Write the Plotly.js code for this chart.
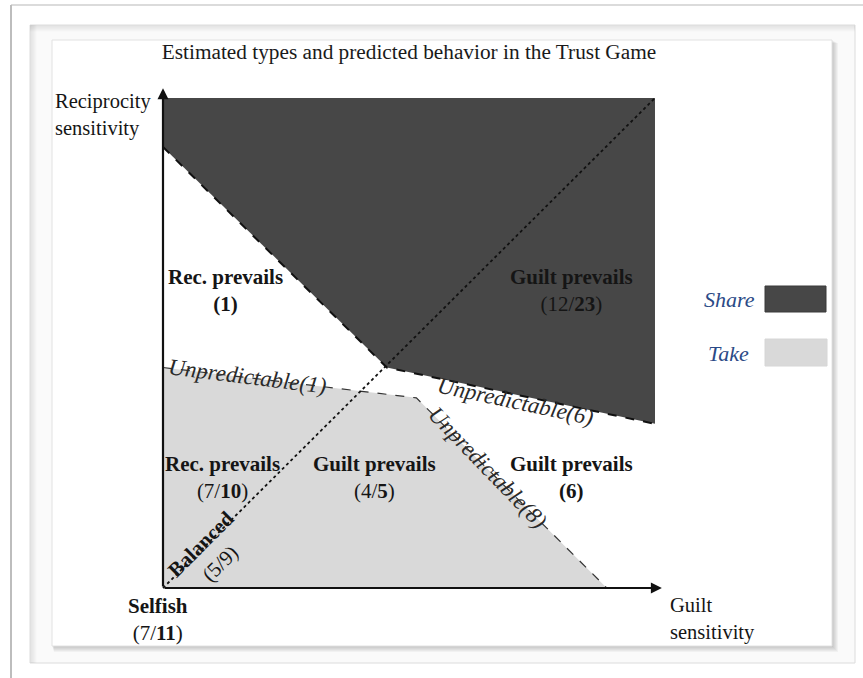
<!DOCTYPE html>
<html>
<head>
<meta charset="utf-8">
<script src="https://cdn.plot.ly/plotly-3.0.1.min.js"></script>
<style>html,body{margin:0;padding:0;background:#fff;}#chart{width:863px;height:678px;}</style>
</head>
<body>
<div id="chart"></div>
<script>
// ---- data (guilt sensitivity on x, reciprocity sensitivity on y) ----
const shareX = [0, 0, 4.55, 10, 10];
const shareY = [10, 9, 4.5, 3.35, 10];
const shareEdgeX = [0, 4.55, 10];
const shareEdgeY = [9, 4.5, 3.35];
const takeX = [0, 5.15, 9.02, 0];
const takeY = [4.5, 3.88, 0, 0];
const takeEdgeX = [0, 5.15, 9.02];
const takeEdgeY = [4.5, 3.88, 0];
const balancedX = [0, 10];
const balancedY = [0, 10];
const axisMax = {x: 10.14, y: 10.2};

const regionLabels = [
  '<b>Rec. prevails</b><br><b>(1)</b>',
  '<b>Guilt prevails</b><br>(12/<b>23</b>)',
  '<b>Rec. prevails</b><br>(7/<b>10</b>)',
  '<b>Guilt prevails</b><br>(4/<b>5</b>)',
  '<b>Guilt prevails</b><br><b>(6)</b>',
  '<b>Balanced</b><br>(5/9)',
  '<b>Selfish</b><br>(7/<b>11</b>)'
];
const boundaryLabels = ['Unpredictable(1)', 'Unpredictable(6)', 'Unpredictable(8)'];
const legendLabels = ['Share', 'Take'];
const titleText = 'Estimated types and predicted behavior in the Trust Game';

// ---- styling ----
const W = 863, H = 678;
const DARK = '#474747', LIGHT = '#d9d9d9';
const SERIF = '"Liberation Serif", "Times New Roman", serif';
const px = p => p / W;            // paper x from pixel
const py = q => 1 - q / H;        // paper y from pixel

const traces = [
  {x: takeX, y: takeY, mode: 'lines', fill: 'toself', fillcolor: LIGHT,
   line: {width: 0}, hoverinfo: 'skip', showlegend: false},
  {x: shareX, y: shareY, mode: 'lines', fill: 'toself', fillcolor: DARK,
   line: {width: 0}, hoverinfo: 'skip', showlegend: false},
  {x: takeEdgeX, y: takeEdgeY, mode: 'lines',
   line: {color: '#333', width: 1.2, dash: 'dash'}, hoverinfo: 'skip', showlegend: false},
  {x: shareEdgeX, y: shareEdgeY, mode: 'lines',
   line: {color: '#111', width: 2, dash: 'dash'}, hoverinfo: 'skip', showlegend: false},
  {x: balancedX, y: balancedY, mode: 'lines',
   line: {color: '#111', width: 1.8, dash: 'dot'}, hoverinfo: 'skip', showlegend: false}
];

const font = (size, extra) => Object.assign({family: SERIF, size: size, color: '#151515'}, extra || {});
const ann = (x, y, text, o) => Object.assign({x: x, y: y, xref: 'x', yref: 'y', text: text,
  showarrow: false, font: font(21)}, o || {});
const ital = font(23, {color: '#2a2a2a', style: 'italic'});

const annotations = [
  // axes with arrows
  {x: 0, y: axisMax.y, ax: 0, ay: 0, axref: 'x', ayref: 'y', xref: 'x', yref: 'y', text: '',
   showarrow: true, arrowhead: 2, arrowsize: 1, arrowwidth: 2.2, arrowcolor: '#111'},
  {x: axisMax.x, y: 0, ax: 0, ay: 0, axref: 'x', ayref: 'y', xref: 'x', yref: 'y', text: '',
   showarrow: true, arrowhead: 2, arrowsize: 1, arrowwidth: 2.2, arrowcolor: '#111'},
  // axis names
  ann(-2.235, 9.65, 'Reciprocity<br>sensitivity', {xanchor: 'left', align: 'left', font: font(20.5)}),
  ann(10.26, -0.63, 'Guilt<br>sensitivity', {xanchor: 'left', align: 'left', font: font(20.5)}),
  // region labels
  ann(1.27, 6.08, regionLabels[0]),
  ann(8.30, 6.08, regionLabels[1]),
  ann(1.20, 2.25, regionLabels[2]),
  ann(4.29, 2.25, regionLabels[3]),
  ann(8.30, 2.25, regionLabels[4]),
  ann(0.97, 0.70, regionLabels[5], {textangle: -45}),
  ann(-0.10, -0.64, regionLabels[6]),
  // boundary labels
  ann(1.71, 4.31, boundaryLabels[0], {textangle: 7, font: ital}),
  ann(7.17, 3.80, boundaryLabels[1], {textangle: 12, font: ital}),
  ann(6.59, 2.45, boundaryLabels[2], {textangle: 46, font: ital}),
  // legend labels
  {x: px(757), y: py(299), xref: 'paper', yref: 'paper', xanchor: 'right', yanchor: 'middle',
   text: legendLabels[0], showarrow: false, font: font(22, {color: '#2b4a86', style: 'italic'})},
  {x: px(751), y: py(353), xref: 'paper', yref: 'paper', xanchor: 'right', yanchor: 'middle',
   text: legendLabels[1], showarrow: false, font: font(22, {color: '#2b4a86', style: 'italic'})}
];

const shapes = [];
// outer frame lines
shapes.push({type: 'line', xref: 'paper', yref: 'paper', x0: px(11), y0: py(5), x1: px(863), y1: py(5),
  line: {color: '#cfcfcf', width: 1.5}, layer: 'below'});
shapes.push({type: 'line', xref: 'paper', yref: 'paper', x0: px(11), y0: py(5), x1: px(11), y1: py(678),
  line: {color: '#bdbdbd', width: 2}, layer: 'below'});
// middle frame with inner shadow
shapes.push({type: 'rect', xref: 'paper', yref: 'paper', x0: px(30), y0: py(25), x1: px(855), y1: py(663),
  line: {color: '#dcdcdc', width: 1}, fillcolor: '#fafafa', layer: 'below'});
for (let i = 0; i < 6; i++) {
  const a = 0.09 - i * 0.014;
  shapes.push({type: 'line', xref: 'paper', yref: 'paper', x0: px(30), y0: py(26 + i), x1: px(855), y1: py(26 + i),
    line: {color: 'rgba(0,0,0,' + a + ')', width: 1}, layer: 'below'});
  shapes.push({type: 'line', xref: 'paper', yref: 'paper', x0: px(31 + i), y0: py(25), x1: px(31 + i), y1: py(663),
    line: {color: 'rgba(0,0,0,' + a + ')', width: 1}, layer: 'below'});
}
// inner card drop shadow
for (let i = 6; i >= 1; i--) {
  shapes.push({type: 'rect', xref: 'paper', yref: 'paper', x0: px(52 + i * 0.3), y0: py(40 + i * 0.5),
    x1: px(832 + i), y1: py(646 + i),
    line: {width: 0}, fillcolor: 'rgba(0,0,0,0.035)', layer: 'below'});
}
shapes.push({type: 'rect', xref: 'paper', yref: 'paper', x0: px(52), y0: py(40), x1: px(832), y1: py(646),
  line: {color: '#e2e2e2', width: 1}, fillcolor: '#ffffff', layer: 'below'});
// legend swatches
shapes.push({type: 'rect', xref: 'paper', yref: 'paper', x0: px(765), y0: py(286), x1: px(826), y1: py(312),
  line: {color: '#3a3a3a', width: 1}, fillcolor: DARK});
shapes.push({type: 'rect', xref: 'paper', yref: 'paper', x0: px(765), y0: py(339), x1: px(827), y1: py(366),
  line: {color: '#d6d6d6', width: 1}, fillcolor: LIGHT});

const layout = {
  width: W, height: H,
  margin: {l: 0, r: 0, t: 0, b: 0},
  paper_bgcolor: '#ffffff', plot_bgcolor: 'rgba(0,0,0,0)',
  showlegend: false,
  title: {text: titleText, font: font(21.3, {color: '#1a1a1a'}), x: px(409), xanchor: 'center',
          xref: 'paper', y: py(52), yref: 'container', yanchor: 'middle'},
  xaxis: {range: [-3.313, 14.228], visible: false, fixedrange: true},
  yaxis: {range: [-1.837, 12.0], visible: false, fixedrange: true},
  annotations: annotations,
  shapes: shapes
};

Plotly.newPlot('chart', traces, layout, {displayModeBar: false, staticPlot: true});
</script>
</body>
</html>
